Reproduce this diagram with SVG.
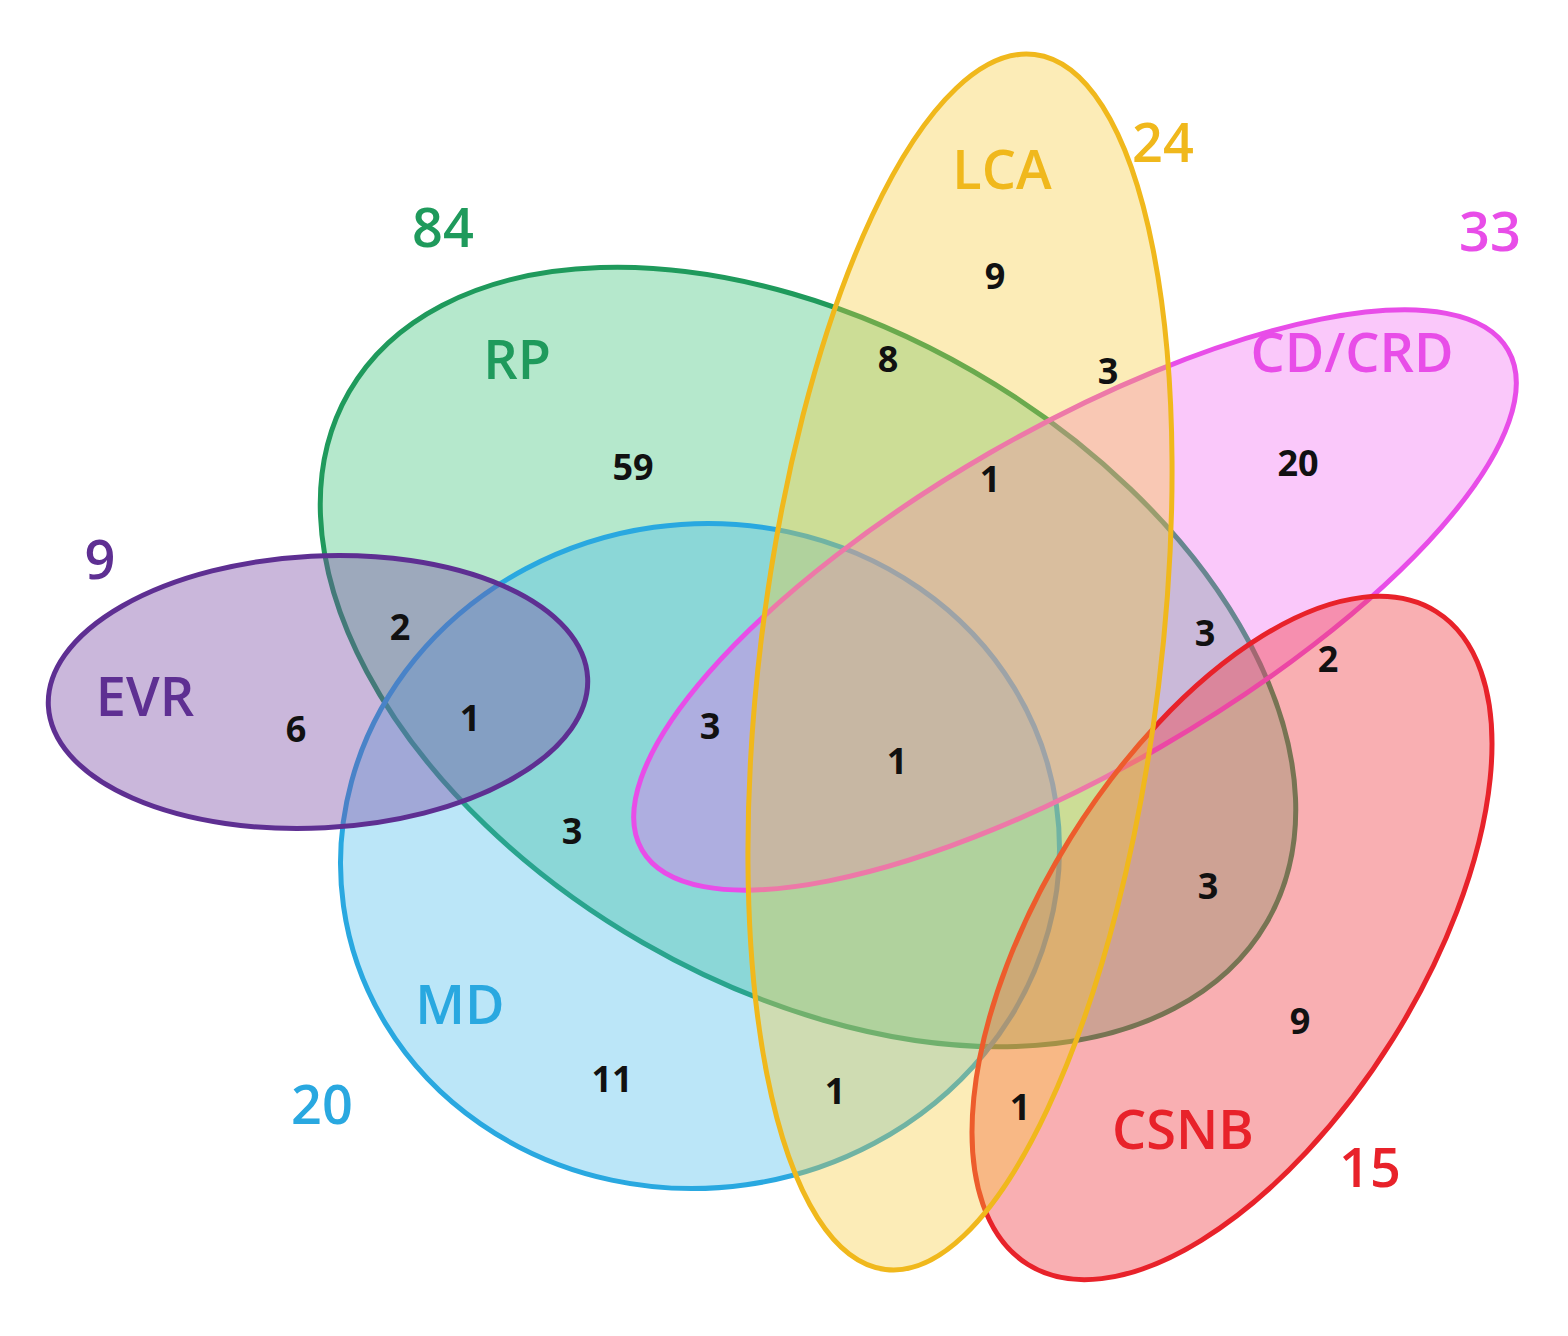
<svg xmlns="http://www.w3.org/2000/svg" width="1568" height="1336" viewBox="0 0 1568 1336">
<style>
.s{stroke-width:5}
.n{font-family:"Open Sans","Liberation Sans",sans-serif;font-weight:bold;font-size:36px;fill:#111;text-anchor:middle;dominant-baseline:central}
.t{font-family:"Open Sans","Liberation Sans",sans-serif;font-weight:600;font-size:54px;text-anchor:middle;dominant-baseline:central}
</style>
<rect width="1568" height="1336" fill="#fff"/>
<g id="sets">
<ellipse id="RP" class="s" cx="808" cy="657" rx="530" ry="330" transform="rotate(30 808 657)" fill="#3cc27a" fill-opacity="0.38" stroke="#1f9a5c"/>
<ellipse id="MD" class="s" cx="700" cy="856" rx="360" ry="332" transform="rotate(-8 700 856)" fill="#3cb8ea" fill-opacity="0.35" stroke="#29a8e0"/>
<ellipse id="EVR" class="s" cx="318" cy="692" rx="270" ry="136" transform="rotate(-3 318 692)" fill="#7a4aa6" fill-opacity="0.4" stroke="#5e2f92"/>
<ellipse id="CDCRD" class="s" cx="1075" cy="600" rx="500" ry="170" transform="rotate(-30 1075 600)" fill="#f060f0" fill-opacity="0.35" stroke="#e84de8"/>
<ellipse id="CSNB" class="s" cx="1232" cy="938" rx="385" ry="190" transform="rotate(-58 1232 938)" fill="#f04048" fill-opacity="0.42" stroke="#e8222a"/>
<ellipse id="LCA" class="s" cx="960" cy="662" rx="200" ry="612" transform="rotate(7 960 662)" fill="#f6c830" fill-opacity="0.35" stroke="#f0b81c"/>
</g>
<g id="labels">
<text class="t" x="443" y="226" fill="#1f9a5c">84</text>
<text class="t" x="517" y="358" fill="#1f9a5c">RP</text>
<text class="t" x="1163" y="141" fill="#f0b81c">24</text>
<text class="t" x="1002" y="168" fill="#f0b81c">LCA</text>
<text class="t" x="1490" y="230" fill="#e84de8">33</text>
<text class="t" x="1352" y="351" fill="#e84de8">CD/CRD</text>
<text class="t" x="100" y="558" fill="#5e2f92">9</text>
<text class="t" x="145" y="695" fill="#5e2f92">EVR</text>
<text class="t" x="460" y="1003" fill="#29a8e0">MD</text>
<text class="t" x="322" y="1103" fill="#29a8e0">20</text>
<text class="t" x="1183" y="1128" fill="#e8222a">CSNB</text>
<text class="t" x="1370" y="1166" fill="#e8222a">15</text>
</g>
<g id="counts">
<text class="n" x="633" y="466">59</text>
<text class="n" x="995" y="275">9</text>
<text class="n" x="888" y="358">8</text>
<text class="n" x="1108" y="370">3</text>
<text class="n" x="990" y="478">1</text>
<text class="n" x="1298" y="462">20</text>
<text class="n" x="400" y="626">2</text>
<text class="n" x="296" y="728">6</text>
<text class="n" x="470" y="717">1</text>
<text class="n" x="710" y="725">3</text>
<text class="n" x="897" y="760">1</text>
<text class="n" x="1205" y="632">3</text>
<text class="n" x="1328" y="658">2</text>
<text class="n" x="572" y="830">3</text>
<text class="n" x="1208" y="885">3</text>
<text class="n" x="612" y="1078">11</text>
<text class="n" x="835" y="1090">1</text>
<text class="n" x="1020" y="1106">1</text>
<text class="n" x="1300" y="1020">9</text>
</g>
</svg>
